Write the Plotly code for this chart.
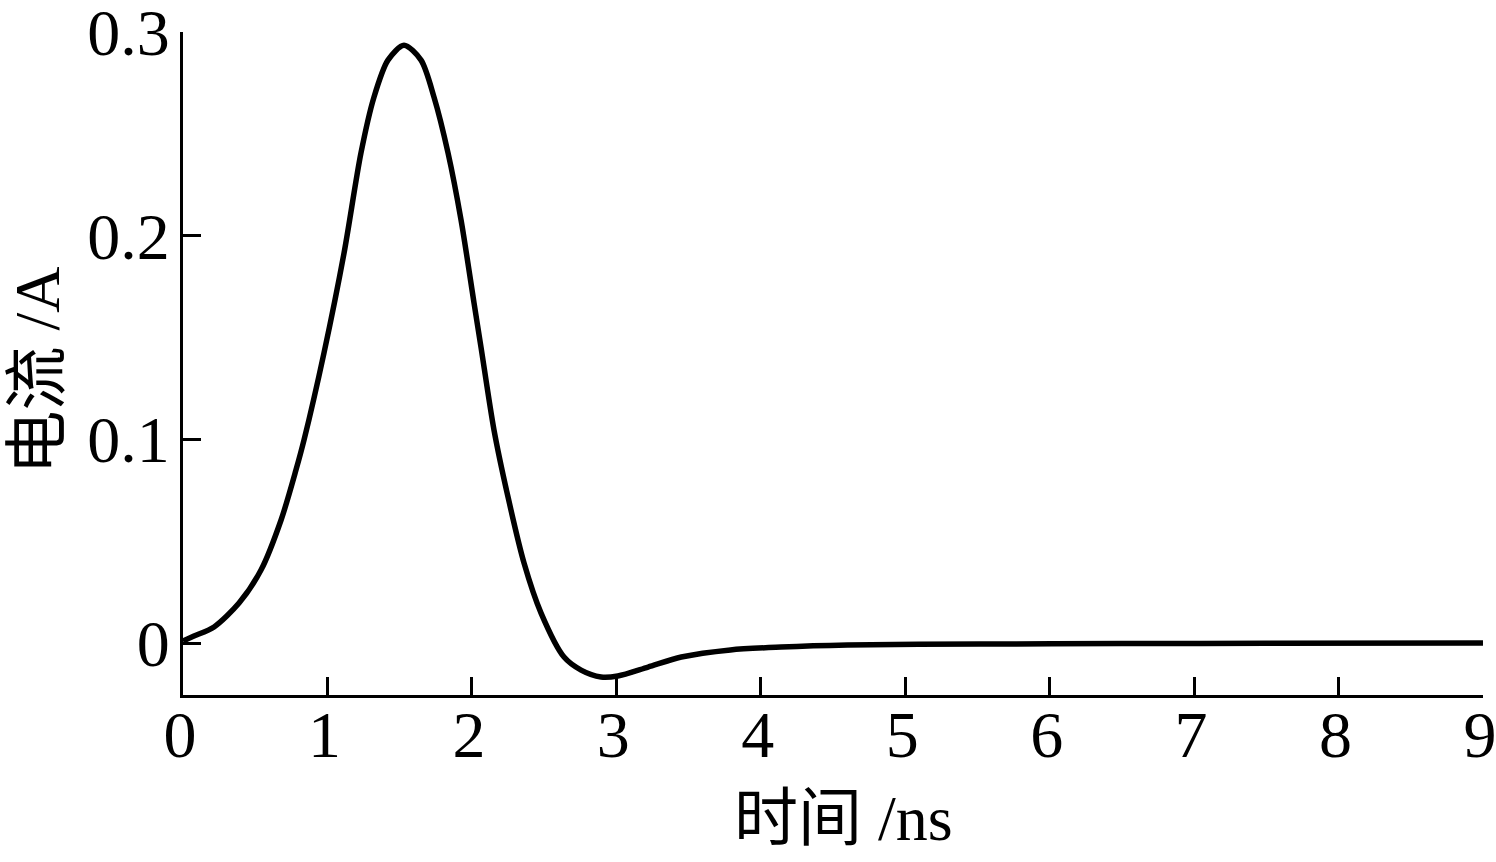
import plotly.graph_objects as go

# Data
time_ns = [0.0, 0.076, 0.215, 0.388, 0.54, 0.679, 0.782, 0.838, 0.976, 1.115,
           1.232, 1.322, 1.419, 1.53, 1.648, 1.738, 1.835, 1.925, 2.015, 2.063,
           2.153, 2.25, 2.361, 2.479, 2.638, 2.756, 2.894, 3.01, 3.22, 3.45,
           3.79, 4.14, 4.6, 5.52, 6.5, 7.5, 9.0]
current_a = [0.001, 0.0034, 0.0079, 0.0196, 0.0358, 0.0604, 0.0849, 0.0997, 0.1424, 0.1915,
             0.2406, 0.268, 0.2862, 0.2935, 0.2862, 0.268, 0.2406, 0.2077, 0.1669, 0.1453,
             0.1046, 0.0717, 0.0393, 0.0147, -0.0069, -0.0133, -0.0167, -0.0162, -0.0118, -0.0069,
             -0.0034, -0.002, -0.001, -0.0005, -0.0003, -0.0001, 0.0]

x_tickvals = [0, 1, 2, 3, 4, 5, 6, 7, 8, 9]
x_ticktext = ["0", "1", "2", "3", "4", "5", "6", "7", "8", "9"]
y_tickvals = [0, 0.1, 0.2, 0.3]
y_ticktext = ["0", "0.1", "0.2", "0.3"]

x_title = "时间 /ns"
y_title = "电流 /A"

FONT = "Liberation Serif, Times New Roman, Noto Sans CJK SC, serif"

fig = go.Figure()
fig.add_trace(go.Scatter(
    x=time_ns, y=current_a, mode="lines",
    line=dict(color="black", width=5.5, shape="spline", smoothing=0.8),
    showlegend=False, hoverinfo="skip",
))

fig.update_layout(
    width=1496, height=862,
    margin=dict(l=183, r=13, t=32, b=167),
    paper_bgcolor="white", plot_bgcolor="white",
    font=dict(family=FONT, size=66, color="black"),
    xaxis=dict(
        range=[0, 9.0001], tickvals=x_tickvals, ticktext=x_ticktext,
        showline=True, linecolor="black", linewidth=3,
        ticks="inside", ticklen=18, tickwidth=3, tickcolor="black",
        showgrid=False, zeroline=False, automargin=False,
        ticklabeloverflow="allow", ticklabelstandoff=-20, ticklabelshift=-3,
        tickfont=dict(family=FONT, size=66),
    ),
    yaxis=dict(
        range=[-0.02553, 0.30001], tickvals=y_tickvals, ticktext=y_ticktext,
        showline=True, linecolor="black", linewidth=3,
        ticks="inside", ticklen=18, tickwidth=3, tickcolor="black",
        showgrid=False, zeroline=False, automargin=False,
        ticklabeloverflow="allow", ticklabelstandoff=-3,
        tickfont=dict(family=FONT, size=66),
    ),
    annotations=[
        dict(text=x_title, xref="paper", yref="paper", x=0.5077, y=-0.186,
             xanchor="center", yanchor="middle", showarrow=False,
             font=dict(family=FONT, size=64)),
        dict(text=y_title, xref="paper", yref="paper", x=-0.112, y=0.49,
             xanchor="center", yanchor="middle", showarrow=False, textangle=-90,
             font=dict(family=FONT, size=64)),
    ],
)

fig.write_html(
    "out.html",
    config={"displayModeBar": False},
    post_script="document.body.style.margin='0';document.body.style.overflow='hidden';",
)
